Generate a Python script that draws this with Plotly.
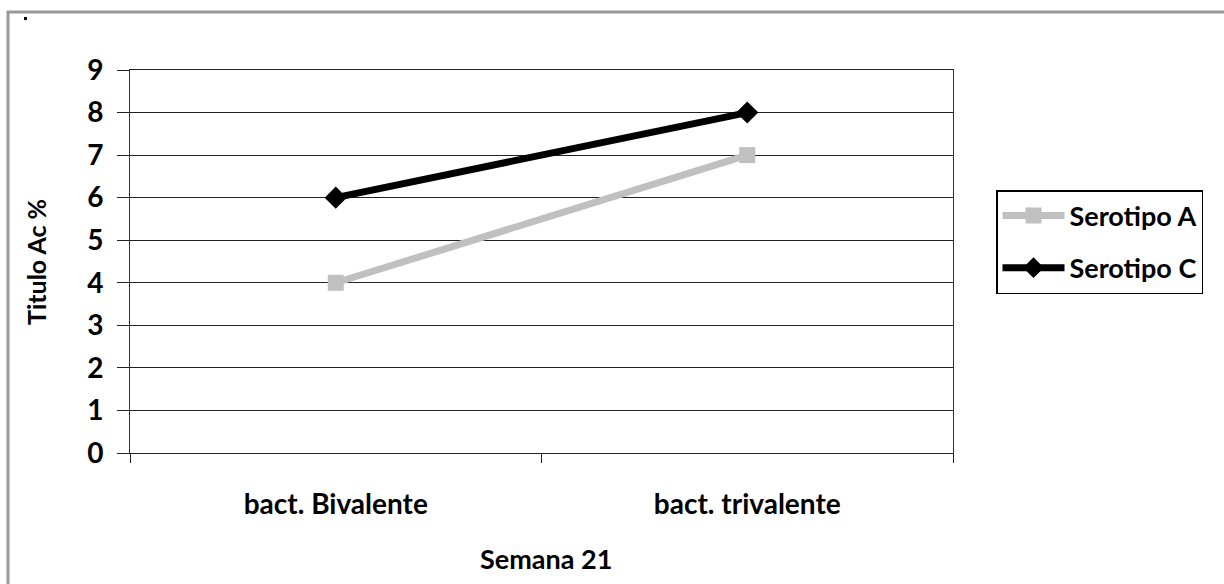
import plotly.graph_objects as go

categories = ["bact. Bivalente", "bact. trivalente"]
serotipo_a = [4, 7]
serotipo_c = [6, 8]
y_ticks = [0, 1, 2, 3, 4, 5, 6, 7, 8, 9]

FONT = "Lato"
W, H = 1224, 584
L, R, T, B = 130, 1224 - 953, 70, 584 - 453
PW, PH = W - L - R, H - T - B

def px_x(x):
    return (x - L) / PW

def px_y(y):
    return (H - B - y) / PH

fig = go.Figure()
fig.add_trace(go.Scatter(
    x=categories, y=serotipo_a, name="Serotipo A", mode="lines+markers",
    line=dict(color="#C0C0C0", width=7),
    marker=dict(symbol="square", size=16, color="#C0C0C0"),
    legendgroup="a",
))
fig.add_trace(go.Scatter(
    x=categories, y=serotipo_c, name="Serotipo C", mode="lines+markers",
    line=dict(color="#000000", width=7),
    marker=dict(symbol="diamond", size=17, color="#000000"),
    legendgroup="c",
))

fig.update_layout(
    width=W, height=H,
    margin=dict(l=L, r=R, t=T, b=B, autoexpand=False),
    paper_bgcolor="white", plot_bgcolor="white",
    font=dict(family=FONT, color="black"),
    showlegend=True,
    legend=dict(
        x=px_x(996), y=px_y(190), xanchor="left", yanchor="top",
        bordercolor="black", borderwidth=1.5,
        font=dict(family=FONT, size=27, color="black", weight="bold"),
        tracegroupgap=14, itemwidth=62,
    ),
    xaxis=dict(
        type="category", range=[-0.5, 1.5], tickson="boundaries",
        ticks="outside", ticklen=9, tickwidth=1, tickcolor="#222",
        showline=True, linecolor="#222", linewidth=1, mirror=True,
        showgrid=False, zeroline=False,
        tickfont=dict(family=FONT, size=28, color="black", weight="bold"),
        ticklabelstandoff=26,
    ),
    yaxis=dict(
        range=[0, 9], tickvals=y_ticks, ticktext=[str(v) for v in y_ticks],
        ticks="outside", ticklen=12, tickwidth=1, tickcolor="#222",
        showline=True, linecolor="#333", linewidth=1, mirror=True,
        showgrid=True, gridcolor="#222", gridwidth=1, zeroline=False,
        tickfont=dict(family=FONT, size=28, color="black", weight="bold"),
        ticklabelstandoff=8,
    ),
    shapes=[
        dict(type="rect", xref="paper", yref="paper",
             x0=px_x(8), y0=px_y(700), x1=px_x(1300), y1=px_y(12),
             line=dict(color="#999999", width=3), fillcolor="rgba(0,0,0,0)",
             layer="below"),
        dict(type="rect", xref="paper", yref="paper",
             x0=px_x(24), y0=px_y(20), x1=px_x(27), y1=px_y(17),
             line=dict(width=0), fillcolor="black"),
    ],
    annotations=[
        dict(text="Semana 21", xref="paper", yref="paper",
             x=px_x(546), y=px_y(558), xanchor="center", yanchor="middle",
             showarrow=False,
             font=dict(family=FONT, size=27, color="black", weight="bold")),
        dict(text="Titulo Ac %", xref="paper", yref="paper",
             x=px_x(36), y=px_y(262), xanchor="center", yanchor="middle",
             textangle=-90, showarrow=False,
             font=dict(family=FONT, size=25, color="black", weight="bold")),
    ],
)

fig.write_html("out.html", config={"displayModeBar": False},
               post_script="document.body.style.margin='0px';")
